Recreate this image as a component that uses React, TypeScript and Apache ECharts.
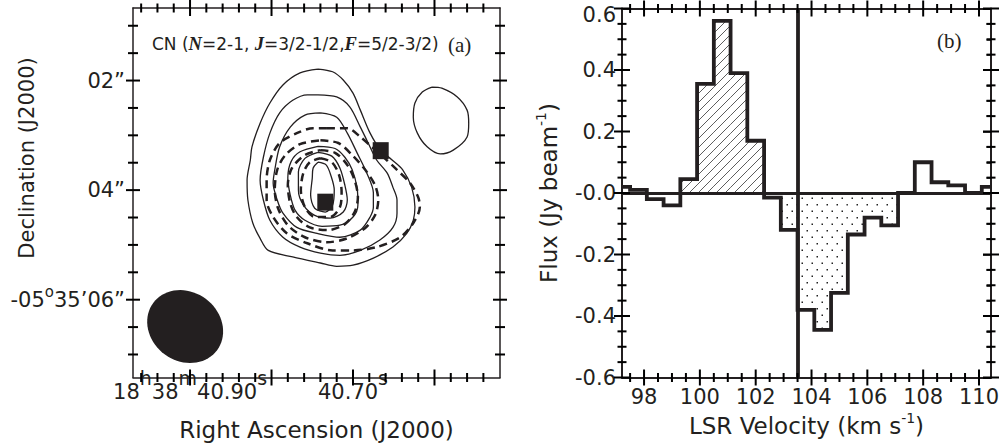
import React, { useEffect, useRef } from 'react';
import * as echarts from 'echarts';

const INK = '#231f20';
const SANS = 'DejaVu Sans';
const SERIF = 'Liberation Serif';

// ---------------- Panel (a): CN contour map ----------------
const raRange = [40.5196, 40.97]; // RA seconds (18h38m..s), east to the left
const decRange = [0.676, 7.42]; // arcsec of -05°35'..
const raMajorTicks = [40.6, 40.7, 40.8, 40.9];
const raMinorTicks = [40.54, 40.56, 40.58, 40.62, 40.64, 40.66, 40.68, 40.72, 40.74, 40.76, 40.78, 40.82, 40.84, 40.86, 40.88, 40.92, 40.94, 40.96];
const raLabelTicks = [40.9, 40.7];
const decMajorTicks = [2, 4, 6];
const decMinorTicks = [1, 1.5, 2.5, 3, 3.5, 4.5, 5, 5.5, 6.5, 7];

// emission (solid) contours, [RA s, Dec arcsec]
const emission1 = [[40.743,1.79],[40.725,1.84],[40.712,1.99],[40.700,2.23],[40.691,2.54],[40.679,2.96],[40.666,3.27],[40.652,3.45],[40.639,3.63],[40.628,3.95],[40.624,4.31],[40.626,4.55],[40.634,4.79],[40.651,5.04],[40.675,5.24],[40.700,5.37],[40.720,5.39],[40.740,5.33],[40.774,5.22],[40.804,5.10],[40.814,4.88],[40.823,4.60],[40.829,4.18],[40.830,3.82],[40.826,3.45],[40.824,3.21],[40.814,2.78],[40.802,2.41],[40.786,2.08],[40.765,1.86]];
const emission2 = [[40.743,2.26],[40.720,2.30],[40.704,2.48],[40.691,2.85],[40.683,3.09],[40.671,3.45],[40.658,3.69],[40.651,3.95],[40.646,4.18],[40.646,4.42],[40.651,4.68],[40.667,4.91],[40.691,5.10],[40.716,5.19],[40.740,5.15],[40.765,5.04],[40.786,4.86],[40.802,4.55],[40.810,4.18],[40.814,3.82],[40.810,3.40],[40.802,2.96],[40.790,2.59],[40.774,2.36],[40.756,2.26]];
const emission3 = [[40.740,2.59],[40.720,2.67],[40.707,2.96],[40.695,3.32],[40.683,3.69],[40.675,4.05],[40.675,4.31],[40.679,4.49],[40.691,4.73],[40.716,4.86],[40.744,4.79],[40.769,4.68],[40.786,4.42],[40.793,4.18],[40.798,3.87],[40.796,3.63],[40.790,3.21],[40.777,2.85],[40.759,2.63]];
const emission4 = [[40.743,3.20],[40.722,3.24],[40.710,3.40],[40.701,3.63],[40.695,3.96],[40.694,4.27],[40.700,4.49],[40.716,4.64],[40.738,4.66],[40.759,4.55],[40.771,4.37],[40.777,4.09],[40.780,3.78],[40.776,3.48],[40.765,3.30]];
const emission5 = [[40.743,3.31],[40.726,3.38],[40.716,3.60],[40.710,3.91],[40.707,4.18],[40.712,4.40],[40.728,4.51],[40.747,4.46],[40.761,4.27],[40.767,4.00],[40.767,3.67],[40.759,3.42]];
const emission6 = [[40.743,3.49],[40.733,3.54],[40.727,3.74],[40.723,4.00],[40.725,4.27],[40.734,4.40],[40.747,4.33],[40.752,4.09],[40.750,3.78],[40.749,3.60]];
const emissionNE = [[40.603,2.12],[40.591,2.14],[40.572,2.30],[40.560,2.54],[40.558,2.78],[40.560,3.03],[40.577,3.27],[40.593,3.34],[40.609,3.21],[40.621,2.96],[40.626,2.67],[40.624,2.41],[40.615,2.21]];

// absorption (dashed) contours
const absorption1 = [[40.732,2.87],[40.707,2.87],[40.691,3.03],[40.677,3.21],[40.661,3.42],[40.646,3.63],[40.630,3.87],[40.620,4.13],[40.618,4.31],[40.626,4.60],[40.642,4.86],[40.671,5.04],[40.700,5.10],[40.725,5.10],[40.756,4.97],[40.781,4.79],[40.798,4.49],[40.806,4.18],[40.806,3.82],[40.802,3.45],[40.790,3.14],[40.769,2.96],[40.749,2.87]];
const absorption2 = [[40.740,3.09],[40.718,3.14],[40.701,3.36],[40.685,3.63],[40.673,3.91],[40.669,4.18],[40.673,4.46],[40.685,4.69],[40.707,4.88],[40.732,4.95],[40.759,4.86],[40.780,4.64],[40.792,4.33],[40.796,4.00],[40.793,3.63],[40.783,3.36],[40.765,3.16]];
const absorption3 = [[40.740,3.27],[40.722,3.32],[40.707,3.54],[40.698,3.82],[40.694,4.13],[40.698,4.40],[40.710,4.62],[40.731,4.73],[40.753,4.68],[40.769,4.49],[40.777,4.24],[40.780,3.91],[40.775,3.60],[40.759,3.36]];
const absorption4 = [[40.740,3.42],[40.726,3.49],[40.717,3.73],[40.714,4.04],[40.716,4.31],[40.728,4.49],[40.747,4.49],[40.759,4.31],[40.764,4.00],[40.761,3.69],[40.753,3.49]];

const continuumPeaks = [[40.734, 4.22], [40.666, 3.28]];
// beam: RA, Dec, major FWHM ("), minor FWHM ("), PA (deg east of north)
const beam = [40.906, 6.49, 1.45, 1.26, 53.5];

// ---------------- Panel (b): spectrum ----------------
const velRange = [97.21, 110.43];
const fluxRange = [-0.6, 0.6];
const velMajorTicks = [98, 100, 102, 104, 106, 108, 110];
const velMinorTicks = [97.5, 98.5, 99, 99.5, 100.5, 101, 101.5, 102.5, 103, 103.5, 104.5, 105, 105.5, 106.5, 107, 107.5, 108.5, 109, 109.5];
const fluxMajorTicks = [-0.6, -0.4, -0.2, 0, 0.2, 0.4, 0.6];
const fluxMinorTicks = [-0.55, -0.5, -0.45, -0.35, -0.3, -0.25, -0.15, -0.1, -0.05, 0.05, 0.1, 0.15, 0.25, 0.3, 0.35, 0.45, 0.5, 0.55];

const velocity = [97.2, 97.8, 98.4, 99.0, 99.6, 100.2, 100.8, 101.4, 102.0, 102.6, 103.2, 103.8, 104.4, 105.0, 105.6, 106.2, 106.8, 107.4, 108.0, 108.6, 109.2, 109.8, 110.4];
const flux = [0.02, 0.01, -0.02, -0.04, 0.045, 0.355, 0.56, 0.39, 0.17, -0.015, -0.12, -0.38, -0.445, -0.325, -0.135, -0.08, -0.105, 0.0, 0.10, 0.035, 0.025, 0.0, 0.02];
const channelWidth = 0.6;
const systemicVelocity = 103.5;
const emissionWindow = [99.3, 102.3];
const absorptionWindow = [102.9, 107.1];

function makePattern(w: number, h: number, draw: (ctx: CanvasRenderingContext2D) => void) {
  const cv = document.createElement('canvas');
  cv.width = w;
  cv.height = h;
  const ctx = cv.getContext('2d')!;
  draw(ctx);
  return { image: cv, repeat: 'repeat', imageWidth: w, imageHeight: h } as any;
}

function frameAxis(gridIndex: number, position: string, range: number[], inverse: boolean) {
  return {
    type: 'value',
    gridIndex,
    position,
    min: range[0],
    max: range[1],
    inverse,
    nameMoveOverlap: false,
    axisLine: { show: true, onZero: false, lineStyle: { color: INK, width: gridIndex === 0 ? 1.5 : 2 } },
    axisTick: { show: false },
    minorTick: { show: false },
    axisLabel: { show: false },
    splitLine: { show: false },
    axisPointer: { show: false },
  } as any;
}

// tick marks as rect symbols sitting on the two opposite frame borders (inward-pointing)
function tickScatter(axisIndex: number, dim: 'x' | 'y', major: number[], minor: number[], nearEdge: number, farEdge: number, majorLen: number, minorLen: number) {
  const TW = 2;
  const data: any[] = [];
  [...major.map((v) => [v, majorLen]), ...minor.map((v) => [v, minorLen])].forEach(([v, len]) => {
    if (dim === 'x') {
      data.push({ value: [v, nearEdge], symbolSize: [TW, len * 2], symbolOffset: [0, 0] });
      data.push({ value: [v, farEdge], symbolSize: [TW, len * 2], symbolOffset: [0, 0] });
    } else {
      data.push({ value: [nearEdge, v], symbolSize: [len * 2, TW], symbolOffset: [0, 0] });
      data.push({ value: [farEdge, v], symbolSize: [len * 2, TW], symbolOffset: [0, 0] });
    }
  });
  return {
    type: 'scatter',
    xAxisIndex: axisIndex,
    yAxisIndex: axisIndex,
    data,
    symbol: 'rect',
    itemStyle: { color: '#000', opacity: 1 },
    silent: true,
    clip: true,
    z: 10,
  };
}

function buildOption() {
  const hatch = makePattern(9, 9, (ctx) => {
    ctx.strokeStyle = '#333';
    ctx.lineWidth = 0.8;
    ctx.beginPath();
    ctx.moveTo(0, 9); ctx.lineTo(9, 0);
    ctx.moveTo(-1, 1); ctx.lineTo(1, -1);
    ctx.moveTo(8, 10); ctx.lineTo(10, 8);
    ctx.stroke();
  });
  const dots = makePattern(10, 13, (ctx) => {
    ctx.fillStyle = '#222';
    ctx.fillRect(1.5, 2.5, 1.5, 1.5);
    ctx.fillRect(6.5, 9, 1.5, 1.5);
  });

  const bx = frameAxis(0, 'bottom', raRange, true);
  bx.axisLabel = {
    show: true,
    customValues: raLabelTicks,
    margin: 14,
    verticalAlign: 'middle',
    fontSize: 21,
    lineHeight: 47,
    fontFamily: SANS,
    color: INK,
    formatter: (v: number) =>
      Math.abs(v - 40.9) < 1e-6 ? '18{s|h}38{s|m}40.90{s|s}' : Math.abs(v - 40.7) < 1e-6 ? '40.70{s|s}' : '',
    rich: { s: { fontSize: 19, lineHeight: 19, verticalAlign: 'top', fontFamily: SANS, color: INK } },
  };
  bx.name = 'Right Ascension (J2000)';
  bx.nameLocation = 'middle';
  bx.nameGap = 37;
  bx.nameTextStyle = { fontSize: 23, lineHeight: 30, fontFamily: SANS, color: INK };

  const ly = frameAxis(0, 'left', decRange, true);
  ly.axisLabel = {
    show: true,
    customValues: decMajorTicks,
    margin: 8,
    fontSize: 21,
    lineHeight: 30,
    fontFamily: SANS,
    color: INK,
    formatter: (v: number) => (v === 2 ? '02\u201D' : v === 4 ? '04\u201D' : v === 6 ? '-05{o|o}35\u201906\u201D' : ''),
    rich: { o: { fontSize: 15, lineHeight: 15, verticalAlign: 'top', fontFamily: SANS, color: INK } },
  };

  const vx = frameAxis(1, 'bottom', velRange, false);
  vx.axisLabel = {
    show: true,
    customValues: velMajorTicks,
    margin: 19,
    verticalAlign: 'middle',
    fontSize: 21,
    lineHeight: 21,
    fontFamily: SANS,
    color: INK,
    formatter: (v: number) => String(v),
  };
  vx.name = 'LSR Velocity (km s{sup|-1})';
  vx.nameLocation = 'middle';
  vx.nameGap = 33;
  vx.nameTextStyle = {
    fontSize: 23, lineHeight: 30, fontFamily: SANS, color: INK,
    rich: { sup: { fontSize: 14, lineHeight: 14, verticalAlign: 'top', fontFamily: SANS, color: INK } },
  };

  const fy = frameAxis(1, 'left', fluxRange, false);
  fy.axisLabel = {
    show: true,
    customValues: fluxMajorTicks,
    margin: 6,
    fontSize: 21,
    lineHeight: 24,
    fontFamily: SANS,
    color: INK,
    formatter: (v: number) => (Math.abs(v) < 1e-9 ? '-0.0' : v >= 0.599 ? '{top|' + v.toFixed(1) + '}' : v.toFixed(1)),
    rich: { top: { fontSize: 21, lineHeight: 24, padding: [12, 0, 0, 0], fontFamily: SANS, color: INK } },
  };
  fy.name = 'Flux (Jy beam{sup|-1})';
  fy.nameLocation = 'middle';
  fy.nameGap = 58;
  fy.nameTextStyle = {
    fontSize: 23, lineHeight: 30, fontFamily: SANS, color: INK,
    rich: { sup: { fontSize: 14, lineHeight: 14, verticalAlign: 'top', fontFamily: SANS, color: INK } },
  };

  // right-hand flux axis: range starts at a multiple of its interval, so native ticks line up
  const fyRight = frameAxis(1, 'right', fluxRange, false);
  fyRight.interval = 0.2;
  fyRight.axisTick = { show: true, inside: true, length: 8, lineStyle: { color: '#000', width: 1.5 } };
  fyRight.minorTick = { show: true, splitNumber: 4, length: 4.5, lineStyle: { color: '#000', width: 1.5 } };

  const xAxis = [bx, frameAxis(0, 'top', raRange, true), vx, frameAxis(1, 'top', velRange, false)];
  const yAxis = [ly, frameAxis(0, 'right', decRange, true), fy, fyRight];

  const closed = (pts: number[][]) => [...pts, pts[0]];
  const contourSeries = (pts: number[][], dashed: boolean) => ({
    type: 'line',
    xAxisIndex: 0,
    yAxisIndex: 0,
    data: closed(pts),
    symbol: 'none',
    smooth: 0.3,
    silent: true,
    lineStyle: dashed ? { color: INK, width: 2.5, type: [8, 5] } : { color: INK, width: 1.3 },
    z: dashed ? 3 : 2,
  });

  const specData = velocity.map((v, i) => [v, flux[i]]);
  const inWin = (w: number[]) => specData.filter((d) => d[0] > w[0] && d[0] < w[1]);

  const binRender = (fill: any) => (params: any, api: any) => {
    const v = api.value(0);
    const f = api.value(1);
    const p0 = api.coord([v - channelWidth / 2, 0]);
    const p1 = api.coord([v + channelWidth / 2, f]);
    return {
      type: 'rect',
      shape: {
        x: Math.min(p0[0], p1[0]),
        y: Math.min(p0[1], p1[1]),
        width: Math.abs(p1[0] - p0[0]),
        height: Math.abs(p1[1] - p0[1]),
      },
      style: { fill, stroke: null },
    };
  };

  const series: any[] = [
    ...[emission1, emission2, emission3, emission4, emission5, emission6, emissionNE].map((c) => contourSeries(c, false)),
    ...[absorption1, absorption2, absorption3, absorption4].map((c) => contourSeries(c, true)),
    {
      type: 'scatter',
      xAxisIndex: 0,
      yAxisIndex: 0,
      data: continuumPeaks,
      symbol: 'rect',
      symbolSize: [16, 17],
      itemStyle: { color: INK, opacity: 1 },
      silent: true,
      z: 5,
    },
    {
      type: 'custom',
      xAxisIndex: 0,
      yAxisIndex: 0,
      data: [beam],
      encode: { x: 0, y: 1 },
      silent: true,
      renderItem: (params: any, api: any) => {
        const c = api.coord([api.value(0), api.value(1)]);
        const a = Math.abs(api.size([0, api.value(2)])[1]) / 2;
        const b = Math.abs(api.size([0, api.value(3)])[1]) / 2;
        const pa = (api.value(4) * Math.PI) / 180;
        const u = [-Math.sin(pa), -Math.cos(pa)];
        const w = [Math.cos(pa), -Math.sin(pa)];
        const pts: number[][] = [];
        for (let i = 0; i < 72; i++) {
          const t = (i / 72) * Math.PI * 2;
          pts.push([
            c[0] + a * Math.cos(t) * u[0] + b * Math.sin(t) * w[0],
            c[1] + a * Math.cos(t) * u[1] + b * Math.sin(t) * w[1],
          ]);
        }
        return { type: 'polygon', shape: { points: pts }, style: { fill: INK } };
      },
    },
    tickScatter(0, 'x', raMajorTicks, raMinorTicks, decRange[1], decRange[0], 8, 4.5),
    tickScatter(0, 'y', decMajorTicks, decMinorTicks, raRange[1], raRange[0], 7, 5),
    {
      type: 'custom',
      xAxisIndex: 2,
      yAxisIndex: 2,
      data: inWin(emissionWindow),
      encode: { x: 0, y: 1 },
      silent: true,
      renderItem: binRender(hatch),
      z: 1,
    },
    {
      type: 'custom',
      xAxisIndex: 2,
      yAxisIndex: 2,
      data: inWin(absorptionWindow),
      encode: { x: 0, y: 1 },
      silent: true,
      renderItem: binRender(dots),
      z: 1,
    },
    {
      type: 'line',
      xAxisIndex: 2,
      yAxisIndex: 2,
      data: specData,
      step: 'middle',
      symbol: 'none',
      silent: true,
      lineStyle: { color: INK, width: 3.8, join: 'miter' },
      z: 4,
      markLine: {
        silent: true,
        symbol: ['none', 'none'],
        label: { show: false },
        lineStyle: { color: INK, type: 'solid', width: 3.2 },
        data: [{ yAxis: 0 }, { xAxis: systemicVelocity, lineStyle: { color: INK, type: 'solid', width: 3.8 } }],
      },
    },
    tickScatter(2, 'x', velMajorTicks, velMinorTicks, fluxRange[0], fluxRange[1], 8, 4.5),
    tickScatter(2, 'y', fluxMajorTicks, fluxMinorTicks, velRange[0], velRange[1], 8, 4.5),
  ];

  return {
    animation: false,
    backgroundColor: '#fff',
    textStyle: { fontFamily: SANS, color: INK },
    grid: [
      { left: 133, top: 8, width: 367, height: 369.5, containLabel: false, outerBoundsMode: 'none' },
      { left: 622, top: 8.5, width: 369, height: 369, containLabel: false, outerBoundsMode: 'none' },
    ],
    xAxis,
    yAxis,
    series,
    graphic: [
      {
        type: 'text',
        x: 27,
        y: 158,
        rotation: Math.PI / 2,
        silent: true,
        style: { text: 'Declination (J2000)', fontSize: 21, fontFamily: SANS, fill: INK, textAlign: 'center', textVerticalAlign: 'middle' },
      },
      {
        type: 'text',
        x: 152,
        y: 44,
        silent: true,
        style: {
          text: 'CN ({b|N}=2-1, {b|J}=3/2-1/2,{b|F}=5/2-3/2)',
          fontSize: 17,
          fontFamily: SANS,
          fill: INK,
          textAlign: 'left',
          textVerticalAlign: 'middle',
          rich: { b: { fontSize: 18.5, fontFamily: SERIF, fontWeight: 'bold', fontStyle: 'italic', fill: INK } },
        },
      },
      {
        type: 'text',
        x: 448,
        y: 45,
        silent: true,
        style: { text: '(a)', fontSize: 21, fontFamily: SERIF, fill: INK, textAlign: 'left', textVerticalAlign: 'middle' },
      },
      {
        type: 'text',
        x: 937,
        y: 41,
        silent: true,
        style: { text: '(b)', fontSize: 21, fontFamily: SERIF, fill: INK, textAlign: 'left', textVerticalAlign: 'middle' },
      },
    ],
  };
}

export default function App() {
  const ref = useRef<HTMLDivElement>(null);
  useEffect(() => {
    if (!ref.current) return;
    const chart = echarts.init(ref.current, undefined, { renderer: 'svg' });
    chart.setOption(buildOption() as any);
    return () => chart.dispose();
  }, []);
  return (
    <div
      ref={ref}
      style={{ position: 'fixed', left: 0, top: 0, width: 1001, height: 445, background: '#fff' }}
    />
  );
}
